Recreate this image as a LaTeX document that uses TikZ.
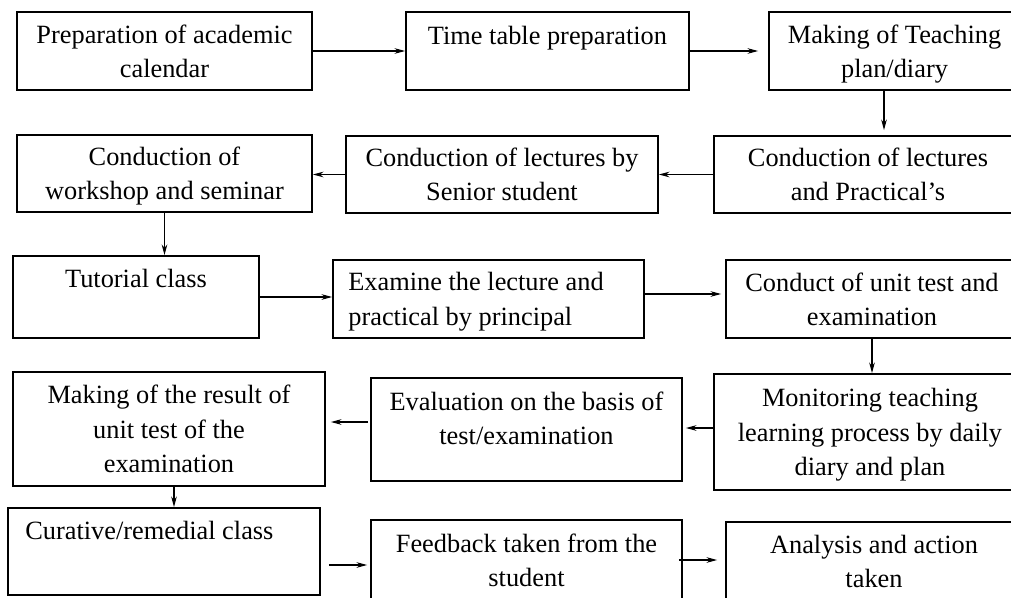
\documentclass[tikz,border=0pt]{standalone}
\usepackage{fontspec}
\setmainfont{Liberation Serif}
\usetikzlibrary{arrows.meta}

\begin{document}
\begin{tikzpicture}[x=0.02cm, y=-0.02cm,
    box/.style={draw, line width=1.1pt, inner sep=0pt, align=center, text depth=0pt,
        font=\fontsize{15}{19.6}\selectfont},
    txt/.style={inner sep=0pt, align=center, text depth=0pt, font=\fontsize{15}{19.6}\selectfont},
    arr/.style={-{Stealth[length=6pt, width=3.2pt]}, line width=0.6pt}]
    \useasboundingbox (0,0) rectangle (1011,598);
    \clip (0,0) rectangle (1011,598);

    % first row
    \node[box, minimum width=5.90cm, minimum height=1.56cm] (prep) at (164.5,51)
        {Preparation of academic\\calendar};
    \node[box, minimum width=5.66cm, minimum height=1.56cm] (timetable) at (547.5,51) {};
    \node[txt] (timetableTxt) at (547.5,35) {Time table preparation};
    \node[box, minimum width=5.02cm, minimum height=1.56cm] (teachplan) at (894.5,51)
        {Making of Teaching\\plan/diary};

    % second row
    \node[box, minimum width=6.16cm, minimum height=1.54cm] (lectures) at (868,174.5)
        {Conduction of lectures\\and Practical's};
    \node[box, minimum width=6.24cm, minimum height=1.54cm] (senior) at (502,174.5)
        {Conduction of lectures by\\Senior student};
    \node[box, minimum width=5.90cm, minimum height=1.54cm] (workshop) at (164.5,173.5)
        {Conduction of\\workshop and seminar};

    % third row
    \node[box, minimum width=4.92cm, minimum height=1.64cm] (tutorial) at (136,297) {};
    \node[txt] (tutorialTxt) at (136,278) {Tutorial class};
    \node[box, minimum width=6.22cm, minimum height=1.56cm] (principal) at (488.5,299) {};
    \node[txt, align=left, anchor=west] (principalTxt) at (348,299)
        {Examine the lecture and\\practical by principal};
    \node[box, minimum width=5.84cm, minimum height=1.56cm] (unittest) at (872,299)
        {Conduct of unit test and\\examination};

    % fourth row
    \node[box, minimum width=6.24cm, minimum height=2.32cm] (monitor) at (870,432)
        {Monitoring teaching\\learning process by daily\\diary and plan};
    \node[box, minimum width=6.22cm, minimum height=2.06cm] (evaluation) at (526.5,429.5) {};
    \node[txt] (evaluationTxt) at (526.5,418)
        {Evaluation on the basis of\\test/examination};
    \node[box, minimum width=6.24cm, minimum height=2.28cm] (result) at (169,429)
        {Making of the result of\\unit test of the\\examination};

    % fifth row
    \node[box, minimum width=6.24cm, minimum height=1.74cm] (remedial) at (164,551.5) {};
    \node[txt, anchor=west] (remedialTxt) at (25,530) {Curative/remedial class};
    \node[box, minimum width=6.22cm, minimum height=2.40cm] (feedback) at (526.5,580) {};
    \node[txt] (feedbackTxt) at (526.5,560) {Feedback taken from the\\student};
    \node[box, minimum width=5.92cm, minimum height=2.36cm] (analysis) at (874,581) {};
    \node[txt] (analysisTxt) at (874,561.5) {Analysis and action\\taken};

    % connectors
    \draw[arr] (prep.east) -- (timetable.west);
    \draw[arr, shorten >=0.2cm] (timetable.east) -- (teachplan.west);
    \draw[arr, shorten >=0.1cm] ([xshift=-0.21cm]teachplan.south)
        -- ([xshift=-0.21cm]teachplan.south |- lectures.north);
    \draw[arr] (lectures.west) -- (lectures.west -| senior.east);
    \draw[arr] (senior.west) -- (senior.west -| workshop.east);
    \draw[arr] (workshop.south) -- (workshop.south |- tutorial.north);
    \draw[arr] (tutorial.east) -- (tutorial.east -| principal.west);
    \draw[arr, shorten >=0.08cm] ([yshift=0.1cm]principal.east)
        -- ([yshift=0.1cm]principal.east -| unittest.west);
    \draw[arr] (unittest.south) -- (unittest.south |- monitor.north);
    \draw[arr, shorten >=0.06cm] ([yshift=0.08cm]monitor.west)
        -- ([yshift=0.08cm]monitor.west -| evaluation.east);
    \draw[arr, shorten <=0.04cm, shorten >=0.1cm] ([yshift=0.15cm]evaluation.west)
        -- ([yshift=0.15cm]evaluation.west -| result.east);
    \draw[arr] ([xshift=0.1cm]result.south) -- ([xshift=0.1cm]result.south |- remedial.north);
    \draw[arr, shorten <=0.16cm, shorten >=0.06cm] ([yshift=-0.27cm]remedial.east)
        -- ([yshift=-0.27cm]remedial.east -| feedback.west);
    \draw[arr, shorten <=-0.08cm, shorten >=0.16cm] ([yshift=0.4cm]feedback.east)
        -- ([yshift=0.4cm]feedback.east -| analysis.west);
\end{tikzpicture}
\end{document}
